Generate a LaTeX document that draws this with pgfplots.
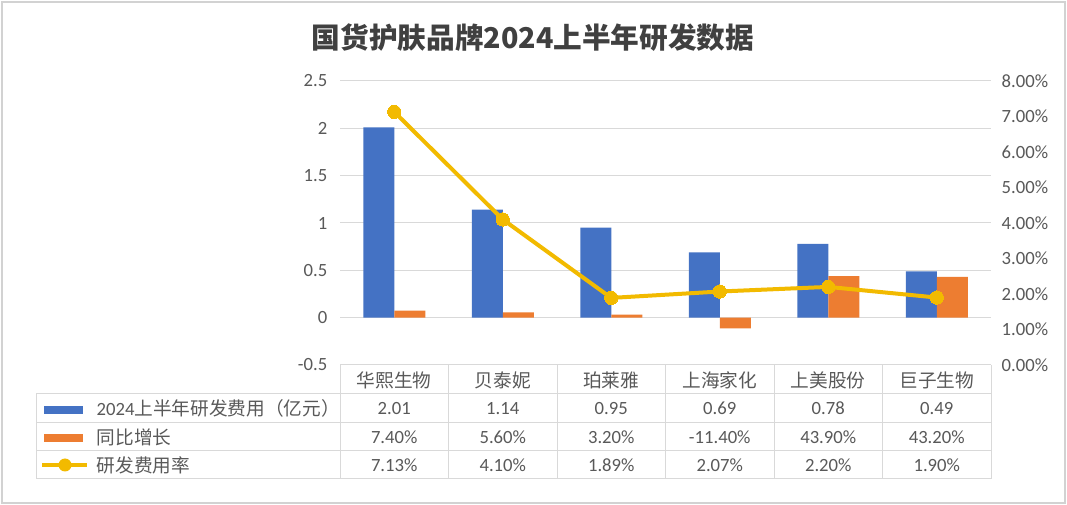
\documentclass[border=0pt]{standalone}
\usepackage{pgfplots}
\pgfplotsset{compat=1.18}
\usepackage{fontspec}
\setmainfont{Carlito}
\newfontfamily\cjk{Noto Sans CJK SC}
\definecolor{cblue}{HTML}{4472C4}
\definecolor{corange}{HTML}{ED7D31}
\definecolor{cgold}{RGB}{242,186,0}
\definecolor{tgray}{HTML}{595959}
\definecolor{ttitle}{HTML}{404040}
\definecolor{ggray}{HTML}{D9D9D9}
\newcommand\tf{\fontsize{14}{16}\selectfont}

\begin{document}
\begin{tikzpicture}[x=0.75pt,y=-0.75pt]
\fill[white] (0,0) rectangle (1067,505);
\useasboundingbox (0,0) rectangle (1067,505);
\draw[gray!35, line width=1.5pt] (2,2) rectangle (1065,503);

\node[text=ttitle, font=\cjk\bfseries\fontsize{21.5}{24}\selectfont] at (533,38) {国货护肤品牌2024上半年研发数据};

% left axis: bars
\begin{axis}[
  at={(255pt,-273.75pt)}, anchor=south west,
  scale only axis, width=488.25pt, height=213pt,
  xmin=-0.5, xmax=5.5, ymin=-0.5, ymax=2.5,
  ytick={-0.5,0,0.5,1,1.5,2,2.5},
  xtick=\empty,
  axis line style={draw=none},
  major tick length=0pt,
  ymajorgrids, grid style={ggray, line width=0.75pt},
  yticklabel style={font=\tf, text=tgray, xshift=-6pt},
  /pgf/number format/assume math mode=true,
]
\addplot[ybar, bar width=23.25pt, bar shift=-11.625pt, fill=cblue, draw=none]
  coordinates {(0,2.01) (1,1.14) (2,0.95) (3,0.69) (4,0.78) (5,0.49)};
\addplot[ybar, bar width=23.25pt, bar shift=11.625pt, fill=corange, draw=none]
  coordinates {(0,0.074) (1,0.056) (2,0.032) (3,-0.114) (4,0.439) (5,0.432)};
\end{axis}

% right axis: rate line
\begin{axis}[
  at={(255pt,-273.75pt)}, anchor=south west,
  scale only axis, width=488.25pt, height=213pt,
  xmin=-0.5, xmax=5.5, ymin=0, ymax=8,
  ytick={0,1,2,3,4,5,6,7,8},
  xtick=\empty,
  axis line style={draw=none},
  major tick length=0pt,
  yticklabel pos=right,
  yticklabel={\pgfmathprintnumber[fixed,fixed zerofill,precision=2]{\tick}\%},
  yticklabel style={font=\tf, text=tgray, xshift=4.5pt},
  /pgf/number format/assume math mode=true,
  clip=false,
]
\addplot[cgold, line width=3pt, mark=*, mark size=5pt, mark options={fill=cgold, draw=cgold, line width=0pt}]
  coordinates {(0,7.13) (1,4.10) (2,1.89) (3,2.07) (4,2.20) (5,1.90)};
\end{axis}

% data table
\foreach \x in {340,448.5,557,665.5,774,882.5,991}
  \draw[ggray, line width=0.75pt] (\x,365) -- (\x,479);
\draw[ggray, line width=0.75pt] (36,394) -- (36,479);
\foreach \y in {365,394,423,451,479}
  \draw[ggray, line width=0.75pt] ({\y==365 ? 340 : 36},\y) -- (991,\y);

\foreach \n [count=\i from 0] in {华熙生物,贝泰妮,珀莱雅,上海家化,上美股份,巨子生物}
  \node[font=\cjk\tf, text=tgray] at ({340+108.5*(\i+0.5)},380) {\n};
\foreach \n [count=\i from 0] in {2.01,1.14,0.95,0.69,0.78,0.49}
  \node[font=\tf, text=tgray] at ({340+108.5*(\i+0.5)},408.5) {\n};
\foreach \n [count=\i from 0] in {7.40,5.60,3.20,-11.40,43.90,43.20}
  \node[font=\tf, text=tgray] at ({340+108.5*(\i+0.5)},437) {\n\%};
\foreach \n [count=\i from 0] in {7.13,4.10,1.89,2.07,2.20,1.90}
  \node[font=\tf, text=tgray] at ({340+108.5*(\i+0.5)},465) {\n\%};

% legend keys
\fill[cblue] (44,406) rectangle (83,414);
\fill[corange] (44,434) rectangle (83,442);
\draw[cgold, line width=3pt] (42,465) -- (87,465);
\fill[cgold] (65,465) circle (6.5);
\node[anchor=west, font=\tf, text=tgray] at (92,408.5) {2024{\cjk 上半年研发费用（亿元）}};
\node[anchor=west, font=\cjk\tf, text=tgray] at (92,437) {同比增长};
\node[anchor=west, font=\cjk\tf, text=tgray] at (92,465) {研发费用率};
\end{tikzpicture}
\end{document}
